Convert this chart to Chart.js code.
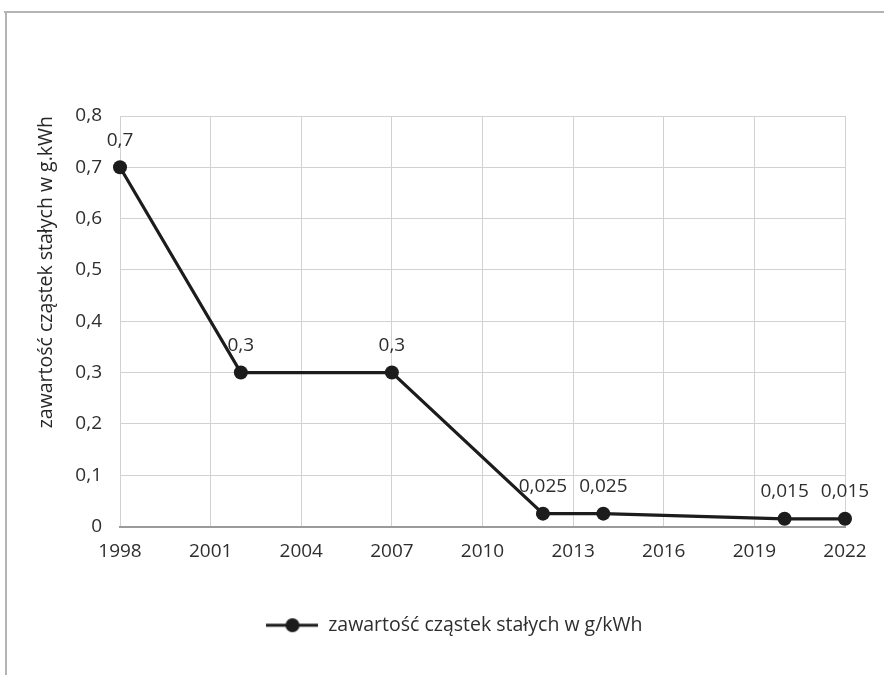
<!DOCTYPE html>
<html>
<head>
<meta charset="utf-8">
<script src="https://cdn.jsdelivr.net/npm/chart.js@4/dist/chart.umd.min.js"></script>
<style>
  html, body { margin: 0; padding: 0; background: #ffffff; }
  #wrap { position: relative; width: 884px; height: 675px; overflow: hidden; background: #ffffff; }
  #frameTop { position: absolute; left: 4px; top: 11px; right: 0; height: 2px; background: #b4b4b4; }
  #frameLeft { position: absolute; left: 5px; top: 11px; bottom: 0; width: 2px; background: #b4b4b4; }
  #c { position: absolute; left: 0; top: 0; }
</style>
</head>
<body>
<div id="wrap">
  <div id="frameTop"></div>
  <div id="frameLeft"></div>
  <canvas id="c" width="884" height="675"></canvas>
</div>
<script>
// Particulate matter limit over the years (g/kWh)
const years = [1998, 2002, 2007, 2012, 2014, 2020, 2022];
const particulates = [0.7, 0.3, 0.3, 0.025, 0.025, 0.015, 0.015];
const yearTicks = [1998, 2001, 2004, 2007, 2010, 2013, 2016, 2019, 2022];
const valueTicks = [0, 0.1, 0.2, 0.3, 0.4, 0.5, 0.6, 0.7, 0.8];
const seriesName = 'zawartość cząstek stałych w g/kWh';
const axisTitle = 'zawartość cząstek stałych w g.kWh';

const FONT = '"Open Sans", "Noto Sans", sans-serif';
const TEXT = '#2e2e2e';
const LINE = '#1c1c1c';
const SIZE = 19;

// decimal comma, as in Polish notation
const fmt = v => (v === 0 ? '0' : String(+v.toFixed(3)).replace('.', ','));

// legend marker: short line with a dot in the middle
const marker = document.createElement('canvas');
marker.width = 52; marker.height = 16;
(function () {
  const m = marker.getContext('2d');
  m.strokeStyle = LINE; m.lineWidth = 3;
  m.beginPath(); m.moveTo(0, 8); m.lineTo(52, 8); m.stroke();
  m.fillStyle = LINE;
  m.beginPath(); m.arc(26, 8, 7, 0, Math.PI * 2); m.fill();
})();

// value labels above every point
const pointLabels = {
  id: 'pointLabels',
  afterDatasetsDraw(chart) {
    const ctx = chart.ctx;
    const meta = chart.getDatasetMeta(0);
    ctx.save();
    ctx.font = SIZE + 'px ' + FONT;
    ctx.fillStyle = TEXT;
    ctx.textAlign = 'center';
    ctx.textBaseline = 'middle';
    meta.data.forEach((pt, i) => {
      ctx.fillText(fmt(particulates[i]), pt.x, pt.y - 27);
    });
    ctx.restore();
  }
};

// centre the legend under the whole frame rather than the plot box
const legendShift = {
  id: 'legendShift',
  afterLayout(chart) {
    if (chart.legend) {
      chart.legend.left += 32;
      chart.legend.right += 32;
    }
  }
};

new Chart(document.getElementById('c'), {
  type: 'line',
  data: {
    datasets: [{
      label: seriesName,
      data: years.map((y, i) => ({ x: y, y: particulates[i] })),
      borderColor: LINE,
      backgroundColor: LINE,
      borderWidth: 3.2,
      pointRadius: 7,
      pointHoverRadius: 7,
      pointBackgroundColor: LINE,
      pointBorderWidth: 0,
      pointStyle: 'circle',
      tension: 0,
      clip: false
    }]
  },
  options: {
    responsive: false,
    animation: false,
    events: [],
    layout: { padding: { left: 0, top: 116, right: 39, bottom: 30 } },
    plugins: {
      tooltip: { enabled: false },
      legend: {
        position: 'bottom',
        labels: {
          usePointStyle: true,
          pointStyle: marker,
          pointStyleWidth: 52,
          padding: 10,
          color: TEXT,
          font: { family: FONT, size: 19.5 }
        }
      }
    },
    scales: {
      x: {
        type: 'linear',
        min: years[0],
        max: years[years.length - 1],
        afterBuildTicks: s => { s.ticks = yearTicks.map(v => ({ value: v })); },
        afterFit: s => { s.height = 79; },
        ticks: {
          color: TEXT,
          font: { family: FONT, size: SIZE },
          padding: 14,
          maxRotation: 0,
          callback: v => String(v)
        },
        grid: { color: '#d2d2d2', lineWidth: 1, drawTicks: false },
        border: { display: true, color: '#9a9a9a', width: 2 }
      },
      y: {
        min: 0,
        max: 0.8,
        afterBuildTicks: s => { s.ticks = valueTicks.map(v => ({ value: v })); },
        afterFit: s => { s.width = 120; },
        ticks: {
          color: TEXT,
          font: { family: FONT, size: SIZE },
          padding: 18,
          callback: v => fmt(v)
        },
        grid: { color: '#d2d2d2', lineWidth: 1, drawTicks: false },
        border: { display: false },
        title: {
          display: true,
          text: axisTitle,
          align: 'end',
          color: '#262626',
          font: { family: FONT, size: 19.5 },
          padding: { top: 35, bottom: 0 }
        }
      }
    }
  },
  plugins: [pointLabels, legendShift]
});
</script>
</body>
</html>
